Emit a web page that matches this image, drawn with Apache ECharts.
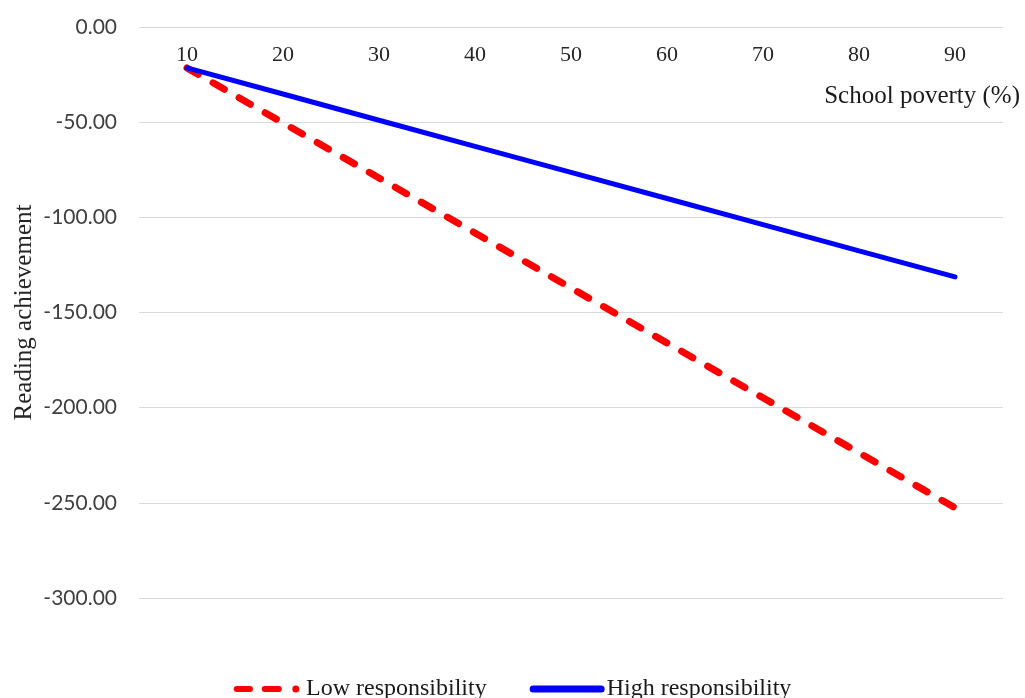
<!DOCTYPE html>
<html>
<head>
<meta charset="utf-8">
<style>
  html, body { margin: 0; padding: 0; background: #ffffff; }
  #chart { width: 1025px; height: 698px; }
</style>
<script src="https://cdn.jsdelivr.net/npm/echarts@6/dist/echarts.min.js"></script>
</head>
<body>
<div id="chart"></div>
<script>
// School poverty levels (%)
const povertyLevels = ['10', '20', '30', '40', '50', '60', '70', '80', '90'];
// Predicted reading achievement by teacher responsibility group
const lowResponsibility = [-21.5, -50.4, -79.3, -108.2, -137.1, -166.0, -194.8, -223.7, -252.6];
const highResponsibility = [-21.5, -35.2, -49.0, -62.7, -76.4, -90.1, -103.8, -117.6, -131.3];
const seriesNames = ['Low responsibility', 'High responsibility'];

const serif = '"Liberation Serif", "Times New Roman", serif';
const sans = 'Lato, "Open Sans", sans-serif';

// Legend keys: a dash-dash-dot key for the dashed series, a rounded bar for the solid one
const dashedKey = 'path://M3.5,0H18.5A3.5,3.5 0 0 1 18.5,7H3.5A3.5,3.5 0 0 1 3.5,0Z' +
  'M35.5,0H51.5A3.5,3.5 0 0 1 51.5,7H35.5A3.5,3.5 0 0 1 35.5,0Z' +
  'M67,3.5A4,4 0 1 1 75,3.5A4,4 0 1 1 67,3.5Z';
const solidKey = 'path://M3.5,0H71.5A3.5,3.5 0 0 1 71.5,7H3.5A3.5,3.5 0 0 1 3.5,0Z';

const chart = echarts.init(document.getElementById('chart'), null, { renderer: 'canvas' });

chart.setOption({
  animation: false,
  backgroundColor: '#ffffff',
  grid: { left: 139, right: 22, top: 27, bottom: 100, containLabel: false },
  legend: {
    top: 672,
    left: 'center',
    itemWidth: 75,
    itemHeight: 7,
    itemGap: 43,
    textStyle: { fontFamily: serif, fontSize: 24, color: '#1a1a1a', padding: [0, 0, 0, -3] },
    data: [
      { name: seriesNames[0], icon: dashedKey },
      { name: seriesNames[1], icon: solidKey }
    ]
  },
  xAxis: {
    type: 'category',
    data: povertyLevels,
    position: 'top',
    boundaryGap: true,
    axisLine: { show: false, onZero: false },
    axisTick: { show: false },
    axisLabel: { inside: true, fontFamily: serif, fontSize: 22, color: '#262626', margin: 17 },
    name: 'School poverty (%)',
    nameLocation: 'end',
    nameGap: 17,
    nameMoveOverlap: false,
    nameTextStyle: {
      fontFamily: serif, fontSize: 25, color: '#1a1a1a',
      align: 'right', verticalAlign: 'top', padding: [57, 0, 0, 0]
    }
  },
  yAxis: {
    type: 'value',
    min: -300,
    max: 0,
    interval: 50,
    axisLine: { show: false },
    axisTick: { show: false },
    splitLine: { show: true, lineStyle: { color: '#d9d9d9', width: 1 } },
    axisLabel: {
      fontFamily: sans, fontSize: 21, color: '#404040', margin: 22,
      formatter: v => v.toFixed(2)
    },
    name: 'Reading achievement',
    nameLocation: 'middle',
    nameGap: 102,
    nameMoveOverlap: false,
    nameRotate: 90,
    nameTextStyle: { fontFamily: serif, fontSize: 25, color: '#262626' }
  },
  series: [
    {
      name: seriesNames[0],
      type: 'line',
      data: lowResponsibility,
      showSymbol: false,
      symbol: 'none',
      color: '#ff0000',
      lineStyle: { color: '#ff0000', width: 7, type: [13, 17], cap: 'round' },
      z: 2
    },
    {
      name: seriesNames[1],
      type: 'line',
      data: highResponsibility,
      showSymbol: false,
      symbol: 'none',
      color: '#0000ff',
      lineStyle: { color: '#0000ff', width: 5, type: 'solid', cap: 'round' },
      z: 3
    }
  ]
});
</script>
</body>
</html>
